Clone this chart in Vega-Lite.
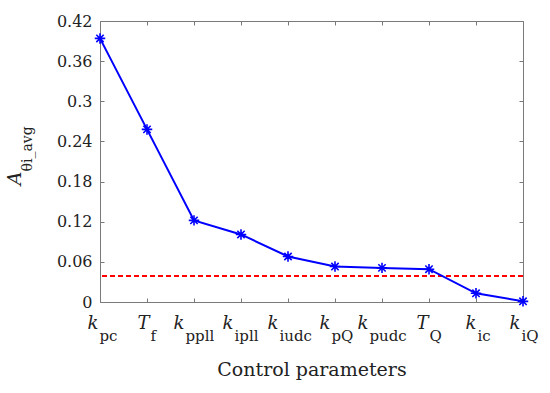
{
  "$schema": "https://vega.github.io/schema/vega-lite/v6.json",
  "width": 423,
  "height": 281,
  "autosize": {"type": "none"},
  "padding": {"left": 100, "top": 21, "right": 27, "bottom": 91},
  "background": "white",
  "config": {
    "view": {"stroke": "#7a7a7a", "strokeWidth": 1},
    "axis": {
      "domain": false,
      "grid": false,
      "tickColor": "#7a7a7a",
      "tickSize": -4,
      "labelFont": "DejaVu Serif",
      "labelColor": "#222222",
      "titleFont": "DejaVu Serif",
      "titleColor": "#222222",
      "titleFontWeight": "normal"
    }
  },
  "data": {
    "values": [
      {"param": "kpc", "value": 0.394},
      {"param": "Tf", "value": 0.258},
      {"param": "kppll", "value": 0.122},
      {"param": "kipll", "value": 0.101},
      {"param": "kiudc", "value": 0.068},
      {"param": "kpQ", "value": 0.053},
      {"param": "kpudc", "value": 0.051},
      {"param": "TQ", "value": 0.049},
      {"param": "kic", "value": 0.013},
      {"param": "kiQ", "value": 0.001}
    ]
  },
  "layer": [
    {
      "mark": {"type": "rule", "color": "#ff0000", "strokeWidth": 1.5, "strokeDash": [5, 3]},
      "encoding": {
        "y": {"datum": 0.039, "type": "quantitative", "axis": null}
      }
    },
    {
      "mark": {"type": "line", "color": "#0000ff", "strokeWidth": 2},
      "encoding": {
        "x": {
          "field": "param", "type": "nominal", "sort": null,
          "scale": {"type": "point", "padding": 0},
          "axis": {
            "orient": "bottom", "title": null, "labelAngle": 0,
            "labelExpr": "substring(datum.value, 0, 1)",
            "labelFontStyle": "italic", "labelFontSize": 18,
            "labelAlign": "right", "labelBaseline": "alphabetic",
            "labelPadding": 30,
            "labelOffset": {
              "condition": [
                {"test": "datum.value === 'kpc'", "value": -2},
                {"test": "datum.value === 'Tf'", "value": 2},
                {"test": "datum.value === 'kppll'", "value": -10},
                {"test": "datum.value === 'kipll'", "value": -8},
                {"test": "datum.value === 'kiudc'", "value": -10},
                {"test": "datum.value === 'kpQ'", "value": -5},
                {"test": "datum.value === 'kpudc'", "value": -14},
                {"test": "datum.value === 'TQ'", "value": -1},
                {"test": "datum.value === 'kic'", "value": 0},
                {"test": "datum.value === 'kiQ'", "value": -3}
              ],
              "value": 0
            }
          }
        },
        "y": {
          "field": "value", "type": "quantitative",
          "scale": {"domain": [0, 0.42], "nice": false, "zero": true},
          "axis": {
            "orient": "left",
            "values": [0, 0.06, 0.12, 0.18, 0.24, 0.3, 0.36, 0.42],
            "format": "~g", "labelFontSize": 16, "labelPadding": 12,
            "title": "A", "titleFontStyle": "italic", "titleFontSize": 19,
            "titleAngle": 270, "titleAlign": "right", "titleBaseline": "alphabetic",
            "titleX": -80, "titleY": 150
          }
        }
      }
    },
    {
      "mark": {
        "type": "point",
        "shape": "M0,-1L0,1M-1,0L1,0M-0.7,-0.7L0.7,0.7M-0.7,0.7L0.7,-0.7",
        "filled": false, "stroke": "#0000ff", "strokeWidth": 1.6, "size": 110, "opacity": 1
      },
      "encoding": {
        "x": {
          "field": "param", "type": "nominal", "sort": null,
          "scale": {"type": "point", "padding": 0},
          "axis": {
            "orient": "bottom", "ticks": false, "labelAngle": 0,
            "labelExpr": "substring(datum.value, 1)",
            "labelFontSize": 15, "labelAlign": "left", "labelBaseline": "alphabetic",
            "labelPadding": 38,
            "labelOffset": {
              "condition": [
                {"test": "datum.value === 'kpc'", "value": -1},
                {"test": "datum.value === 'Tf'", "value": 3},
                {"test": "datum.value === 'kppll'", "value": -9},
                {"test": "datum.value === 'kipll'", "value": -7},
                {"test": "datum.value === 'kiudc'", "value": -9},
                {"test": "datum.value === 'kpQ'", "value": -4},
                {"test": "datum.value === 'kpudc'", "value": -13},
                {"test": "datum.value === 'TQ'", "value": 0},
                {"test": "datum.value === 'kic'", "value": 1},
                {"test": "datum.value === 'kiQ'", "value": -2}
              ],
              "value": 0
            },
            "title": "Control parameters", "titleFontSize": 19, "titlePadding": 17
          }
        },
        "y": {
          "field": "value", "type": "quantitative",
          "axis": {
            "orient": "right", "labels": false, "title": null,
            "values": [0, 0.06, 0.12, 0.18, 0.24, 0.3, 0.36, 0.42]
          }
        }
      }
    },
    {
      "mark": {"type": "point", "opacity": 0},
      "encoding": {
        "x": {
          "field": "param", "type": "nominal", "sort": null,
          "scale": {"type": "point", "padding": 0},
          "axis": {"orient": "top", "labels": false, "title": null}
        },
        "y": {
          "field": "value", "type": "quantitative",
          "axis": {
            "orient": "left", "labels": false, "ticks": false,
            "values": [0, 0.06, 0.12, 0.18, 0.24, 0.3, 0.36, 0.42],
            "title": "θi_avg", "titleFontSize": 14,
            "titleAngle": 270, "titleAlign": "left", "titleBaseline": "alphabetic",
            "titleX": -69, "titleY": 150
          }
        }
      }
    }
  ],
  "resolve": {"axis": {"x": "independent", "y": "independent"}}
}
